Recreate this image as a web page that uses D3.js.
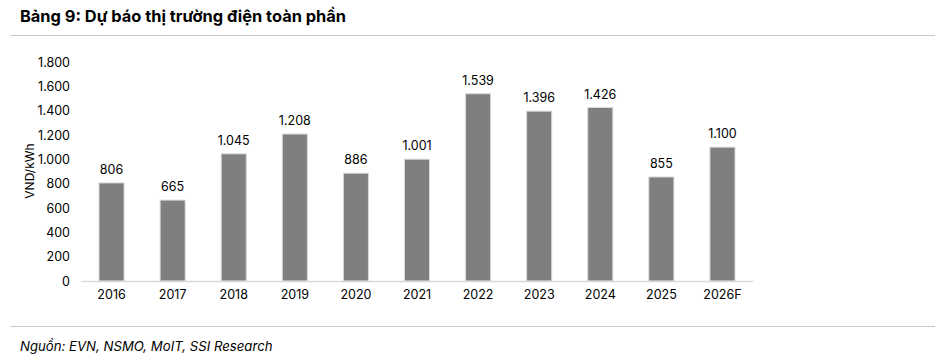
<!DOCTYPE html>
<html><head><meta charset="utf-8">
<script src="https://cdn.jsdelivr.net/npm/d3@7"></script>
<style>body{margin:0;background:#fff;font-family:Inter,"Noto Sans",sans-serif;}</style>
</head><body><svg id="c" width="951" height="364"></svg>
<script>
const categories = ["2016","2017","2018","2019","2020","2021","2022","2023","2024","2025","2026F"];
const values = [806,665,1045,1208,886,1001,1539,1396,1426,855,1100];
const yTicks = [0,200,400,600,800,1000,1200,1400,1600,1800];
const title = "Bảng 9: Dự báo thị trường điện toàn phần";
const source = "Nguồn: EVN, NSMO, MoIT, SSI Research";
const yTitle = "VND/kWh";

const svg = d3.select("#c");
const fmt = v => d3.format(",")(v).replace(/,/g,".");

svg.append("text").attr("x",20).attr("y",22).attr("font-size",16.4).attr("font-weight",700)
  .attr("fill","#000").text(title);
svg.append("line").attr("x1",10).attr("x2",935).attr("y1",35.5).attr("y2",35.5).attr("stroke","#c8c8c8");
svg.append("line").attr("x1",10).attr("x2",935).attr("y1",326.5).attr("y2",326.5).attr("stroke","#c8c8c8");
svg.append("text").attr("x",20).attr("y",351).attr("font-size",13.2).attr("font-style","italic")
  .attr("fill","#000").text(source);

const x = d3.scaleBand().domain(categories).range([81,753]).paddingInner(0.59).paddingOuter(0.295);
const y = d3.scaleLinear().domain([0,1800]).range([281,62]);

const g = svg.append("g");
g.selectAll("rect").data(values).join("rect")
  .attr("x",(d,i)=>x(categories[i])).attr("width",x.bandwidth())
  .attr("y",d=>y(d)).attr("height",d=>y(0)-y(d))
  .attr("fill","#7f7f7f").attr("stroke","#d9d9d9").attr("stroke-width",1);
g.selectAll("text.v").data(values).join("text").attr("class","v")
  .attr("x",(d,i)=>x(categories[i])+x.bandwidth()/2).attr("y",d=>y(d)-9)
  .attr("text-anchor","middle").attr("font-size",12.5).attr("fill","#000").text(d=>fmt(d));

const xa = svg.append("g").attr("transform","translate(0,281)")
  .call(d3.axisBottom(x).tickSize(0).tickPadding(9));
xa.select(".domain").attr("stroke","#d9d9d9").attr("stroke-width",1.5);
xa.selectAll("text").attr("font-size",12.5).attr("fill","#000").attr("font-family","Inter");

const ya = svg.append("g").attr("transform","translate(70,0)")
  .call(d3.axisLeft(y).tickValues(yTicks).tickSize(0).tickPadding(0).tickFormat(fmt));
ya.select(".domain").remove();
ya.selectAll("text").attr("font-size",12.5).attr("fill","#000").attr("font-family","Inter");

svg.append("text").attr("transform","translate(34,171) rotate(-90)").attr("text-anchor","middle")
  .attr("font-size",12).attr("fill","#000").text(yTitle);
</script></body></html>
